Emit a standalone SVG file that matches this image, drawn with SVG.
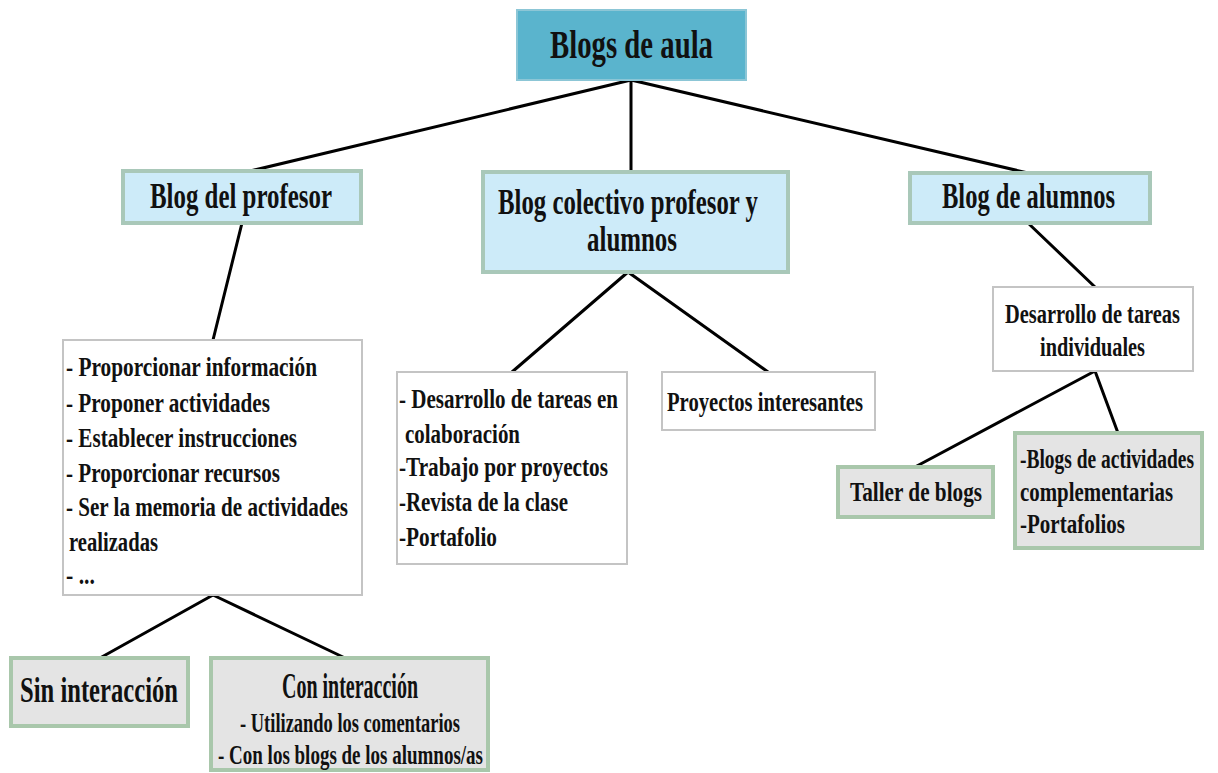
<svg xmlns="http://www.w3.org/2000/svg" width="1218" height="773" viewBox="0 0 1218 773">
<style>
text{font-family:"Liberation Serif","Times New Roman",serif;font-weight:bold;fill:#111;}
.t38{font-size:41px}
.t32{font-size:35px}
.t25{font-size:28px}
.t24{font-size:27px}
.root{fill:#5AB4CD;stroke:#8CC6D6;stroke-width:2}
.lvl1{fill:#CDEBF9;stroke:#A9C8B9;stroke-width:4}
.white{fill:#FFFFFF;stroke:#C4C4C4;stroke-width:2}
.grey{fill:#E4E4E4;stroke:#A9C7AB;stroke-width:4}
.conn line{stroke:#000;stroke-width:3;stroke-linecap:round}
</style>
<rect width="1218" height="773" fill="#FFFFFF"/>
<g class="conn" id="connectors">
<line x1="631" y1="80" x2="242" y2="173"/>
<line x1="631" y1="80" x2="631" y2="172"/>
<line x1="631" y1="80" x2="1028" y2="173"/>
<line x1="242" y1="223" x2="213" y2="340"/>
<line x1="628" y1="272" x2="512" y2="372"/>
<line x1="628" y1="272" x2="768" y2="372"/>
<line x1="1028" y1="223" x2="1095" y2="287"/>
<line x1="1095" y1="371" x2="915" y2="467"/>
<line x1="1095" y1="371" x2="1118" y2="433"/>
<line x1="213" y1="595" x2="100" y2="658"/>
<line x1="213" y1="595" x2="345" y2="658"/>
</g>
<g id="root">
<rect class="root" x="517" y="10" width="229" height="70"/>
<text class="t38" x="550" y="58" textLength="163" lengthAdjust="spacingAndGlyphs">Blogs de aula</text>
</g>
<g id="profesor">
<rect class="lvl1" x="123" y="171" width="238" height="52"/>
<text class="t32" x="150" y="208" textLength="182" lengthAdjust="spacingAndGlyphs">Blog del profesor</text>
</g>
<g id="colectivo">
<rect class="lvl1" x="483" y="172" width="305" height="100"/>
<text class="t32" x="498" y="214" textLength="260" lengthAdjust="spacingAndGlyphs">Blog colectivo profesor y</text>
<text class="t32" x="587" y="251" textLength="90" lengthAdjust="spacingAndGlyphs">alumnos</text>
</g>
<g id="alumnos">
<rect class="lvl1" x="910" y="173" width="240" height="50"/>
<text class="t32" x="942" y="208" textLength="173" lengthAdjust="spacingAndGlyphs">Blog de alumnos</text>
</g>
<g id="lista-profesor">
<rect class="white" x="63" y="340" width="299" height="255"/>
<text class="t25" x="66" y="376" textLength="251" lengthAdjust="spacingAndGlyphs">- Proporcionar información</text>
<text class="t25" x="66" y="412" textLength="204" lengthAdjust="spacingAndGlyphs">- Proponer actividades</text>
<text class="t25" x="66" y="447" textLength="231" lengthAdjust="spacingAndGlyphs">- Establecer instrucciones</text>
<text class="t25" x="66" y="482" textLength="214" lengthAdjust="spacingAndGlyphs">- Proporcionar recursos</text>
<text class="t25" x="66" y="516" textLength="282" lengthAdjust="spacingAndGlyphs">- Ser la memoria de actividades</text>
<text class="t25" x="69" y="551" textLength="89" lengthAdjust="spacingAndGlyphs">realizadas</text>
<text class="t25" x="66" y="584" textLength="29" lengthAdjust="spacingAndGlyphs">- ...</text>
</g>
<g id="lista-colectivo">
<rect class="white" x="397" y="372" width="230" height="192"/>
<text class="t25" x="399" y="408" textLength="219" lengthAdjust="spacingAndGlyphs">- Desarrollo de tareas en</text>
<text class="t25" x="405" y="443" textLength="115" lengthAdjust="spacingAndGlyphs">colaboración</text>
<text class="t25" x="399" y="476" textLength="209" lengthAdjust="spacingAndGlyphs">-Trabajo por proyectos</text>
<text class="t25" x="399" y="511" textLength="169" lengthAdjust="spacingAndGlyphs">-Revista de la clase</text>
<text class="t25" x="399" y="546" textLength="98" lengthAdjust="spacingAndGlyphs">-Portafolio</text>
</g>
<g id="proyectos">
<rect class="white" x="662" y="372" width="213" height="58"/>
<text class="t24" x="667" y="411" textLength="196" lengthAdjust="spacingAndGlyphs">Proyectos interesantes</text>
</g>
<g id="individuales">
<rect class="white" x="993" y="287" width="200" height="84"/>
<text class="t24" x="1005" y="323" textLength="175" lengthAdjust="spacingAndGlyphs">Desarrollo de tareas</text>
<text class="t24" x="1040" y="356" textLength="105" lengthAdjust="spacingAndGlyphs">individuales</text>
</g>
<g id="taller">
<rect class="grey" x="838" y="467" width="155" height="50"/>
<text class="t25" x="850" y="501" textLength="132" lengthAdjust="spacingAndGlyphs">Taller de blogs</text>
</g>
<g id="actividades">
<rect class="grey" x="1015" y="433" width="187" height="115"/>
<text class="t24" x="1020" y="468" textLength="174" lengthAdjust="spacingAndGlyphs">-Blogs de actividades</text>
<text class="t24" x="1020" y="501" textLength="153" lengthAdjust="spacingAndGlyphs">complementarias</text>
<text class="t24" x="1020" y="533" textLength="105" lengthAdjust="spacingAndGlyphs">-Portafolios</text>
</g>
<g id="sin-interaccion">
<rect class="grey" x="11" y="658" width="177" height="68"/>
<text class="t32" x="20" y="702" textLength="158" lengthAdjust="spacingAndGlyphs">Sin interacción</text>
</g>
<g id="con-interaccion">
<rect class="grey" x="211" y="658" width="277" height="112"/>
<text class="t32" x="282" y="698" textLength="136" lengthAdjust="spacingAndGlyphs">Con interacción</text>
<text class="t25" x="240" y="732" textLength="220" lengthAdjust="spacingAndGlyphs">- Utilizando los comentarios</text>
<text class="t25" x="218" y="764" textLength="265" lengthAdjust="spacingAndGlyphs">- Con los blogs de los alumnos/as</text>
</g>
</svg>
